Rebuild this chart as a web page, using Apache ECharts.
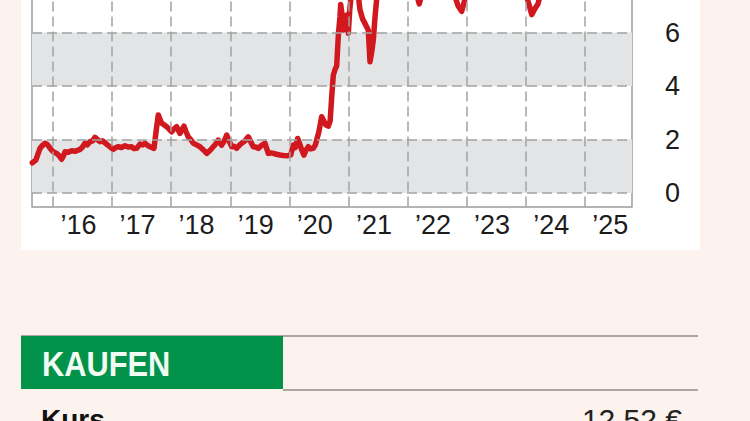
<!DOCTYPE html>
<html>
<head>
<meta charset="utf-8">
<script src="https://cdn.jsdelivr.net/npm/echarts@6/dist/echarts.min.js"></script>
<style>
  html, body { margin: 0; padding: 0; background: #fcf3ee; }
  #chart { width: 750px; height: 421px; }
</style>
</head>
<body>
<div id="chart"></div>
<script>
// ---- data (decimal years, price) ----
const dates = [
  2015.65, 2015.71, 2015.78, 2015.83, 2015.865, 2015.90, 2015.937, 2015.97, 2016.005, 2016.063,
  2016.11, 2016.147, 2016.18, 2016.203, 2016.25, 2016.316, 2016.38, 2016.457, 2016.50, 2016.541,
  2016.58, 2016.626, 2016.67, 2016.711, 2016.75, 2016.795, 2016.84, 2016.880, 2016.92, 2016.964,
  2017.020, 2017.06, 2017.105, 2017.16, 2017.218, 2017.27, 2017.332, 2017.37, 2017.416, 2017.472,
  2017.52, 2017.557, 2017.60, 2017.641, 2017.709, 2017.755, 2017.782, 2017.81, 2017.839, 2017.88,
  2017.924, 2017.96, 2018.008, 2018.05, 2018.093, 2018.12, 2018.149, 2018.19, 2018.217, 2018.25,
  2018.289, 2018.33, 2018.374, 2018.43, 2018.487, 2018.55, 2018.601, 2018.66, 2018.712, 2018.76,
  2018.797, 2018.854, 2018.90, 2018.939, 2018.98, 2019.024, 2019.06, 2019.108, 2019.15, 2019.193,
  2019.25, 2019.305, 2019.35, 2019.389, 2019.43, 2019.474, 2019.53, 2019.587, 2019.643, 2019.69,
  2019.728, 2019.78, 2019.841, 2019.90, 2019.954, 2020.022, 2020.066, 2020.10, 2020.140, 2020.18,
  2020.208, 2020.247, 2020.28, 2020.320, 2020.36, 2020.404, 2020.44, 2020.462, 2020.50, 2020.546,
  2020.58, 2020.615, 2020.658, 2020.69, 2020.716, 2020.743, 2020.77, 2020.800, 2020.83, 2020.856,
  2020.868, 2020.89, 2020.912, 2020.94, 2020.970, 2020.997, 2021.02, 2021.054, 2021.093, 2021.144,
  2021.195, 2021.24, 2021.279, 2021.335, 2021.364, 2021.395, 2021.420, 2021.45, 2021.487, 2021.55,
  2021.70, 2021.85, 2022.00, 2022.10, 2022.142, 2022.198, 2022.261, 2022.35, 2022.50, 2022.65,
  2022.75, 2022.802, 2022.853, 2022.915, 2022.954, 2023.005, 2023.15, 2023.35, 2023.55, 2023.75,
  2023.95, 2024.020, 2024.06, 2024.100, 2024.156, 2024.206, 2024.257, 2024.40, 2024.60, 2024.80,
  2025.00, 2025.20, 2025.40, 2025.60, 2025.75
];
const prices = [
  1.13, 1.23, 1.67, 1.80, 1.86, 1.82, 1.72, 1.62, 1.54, 1.48,
  1.38, 1.26, 1.40, 1.54, 1.52, 1.58, 1.56, 1.63, 1.72, 1.86,
  1.80, 1.92, 1.95, 2.08, 2.00, 1.92, 1.95, 1.88, 1.80, 1.73,
  1.63, 1.70, 1.73, 1.70, 1.77, 1.72, 1.73, 1.66, 1.67, 1.83,
  1.80, 1.86, 1.78, 1.73, 1.67, 2.48, 2.92, 2.75, 2.61, 2.55,
  2.48, 2.40, 2.29, 2.40, 2.48, 2.35, 2.23, 2.40, 2.50, 2.30,
  2.10, 2.00, 1.86, 1.80, 1.73, 1.60, 1.48, 1.60, 1.73, 1.85,
  1.98, 1.79, 1.95, 2.17, 1.95, 1.73, 1.75, 1.67, 1.78, 1.86,
  1.95, 2.10, 1.90, 1.73, 1.72, 1.67, 1.78, 1.86, 1.48, 1.50,
  1.48, 1.45, 1.42, 1.40, 1.39, 1.42, 1.79, 1.70, 2.04, 1.80,
  1.61, 1.42, 1.60, 1.73, 1.65, 1.67, 1.80, 1.98, 2.30, 2.85,
  2.70, 2.55, 2.50, 2.70, 3.60, 4.40, 4.60, 4.75, 5.95, 6.60,
  7.05, 6.70, 6.09, 6.50, 6.65, 5.97, 6.80, 7.60, 8.20, 7.80,
  6.84, 6.50, 6.34, 6.09, 4.91, 5.30, 5.72, 6.60, 7.50, 8.40,
  8.90, 9.30, 8.70, 8.00, 7.50, 7.07, 7.60, 8.30, 8.60, 8.00,
  7.70, 7.35, 7.00, 6.79, 7.10, 7.60, 8.30, 8.90, 8.30, 8.00,
  7.70, 7.30, 7.00, 6.67, 6.90, 7.07, 7.50, 8.40, 9.30, 10.10,
  10.90, 11.60, 12.00, 12.30, 12.52
];
const yTicks = [0, 2, 4, 6];
const yBands = [[0, 2], [4, 6]];
const yearStarts = [2016, 2017, 2018, 2019, 2020, 2021, 2022, 2023, 2024, 2025];
const yearLabels = ["’16", "’17", "’18", "’19", "’20", "’21", "’22", "’23", "’24", "’25"];
const ratingText = "KAUFEN";
const priceLabel = "Kurs";
const priceValue = "12,52 €";

// ---- chart ----
const chart = echarts.init(document.getElementById('chart'), null, { renderer: 'svg' });
const labelPos = yearStarts.map(y => y + 0.43);
const FONT = "'Liberation Sans', Arial, sans-serif";
const gridColor = '#a3a3a3';
const borderStyle = { color: '#9c9c9c', width: 1.5 };
const Y_MIN = -0.5, Y_MAX = 7.215;

chart.setOption({
  animation: false,
  backgroundColor: '#fcf3ee',
  grid: {
    left: 32, width: 600, top: 0, height: 206.4,
    show: true, backgroundColor: '#ffffff', borderWidth: 0
  },
  xAxis: {
    type: 'value', min: 2015.645, max: 2025.797,
    axisLine: { show: true, onZero: false, lineStyle: borderStyle }, axisTick: { show: false }, splitLine: { show: false },
    axisLabel: {
      customValues: labelPos,
      formatter: v => yearLabels[yearStarts.indexOf(Math.floor(v))] || '',
      margin: 5, fontSize: 27, color: '#1c1c1c', fontFamily: FONT
    }
  },
  yAxis: [
    {
      type: 'value', position: 'right', min: Y_MIN, max: Y_MAX,
      axisLine: { show: true, onZero: false, lineStyle: borderStyle }, axisTick: { show: false }, splitLine: { show: false },
      axisLabel: {
        customValues: yTicks, align: 'left', margin: 33,
        fontSize: 27, color: '#1c1c1c', fontFamily: FONT
      }
    },
    {
      type: 'value', position: 'left', min: Y_MIN, max: Y_MAX,
      axisLine: { show: true, onZero: false, lineStyle: borderStyle }, axisTick: { show: false },
      splitLine: { show: false }, axisLabel: { show: false }
    }
  ],
  series: [
    {
      type: 'line', data: [], z: 1, silent: true,
      markArea: {
        silent: true,
        itemStyle: { color: '#e2e4e6' },
        data: yBands.map(b => [{ yAxis: b[0] }, { yAxis: b[1] }])
      },
      markLine: {
        silent: true, symbol: 'none', label: { show: false },
        lineStyle: { color: gridColor, type: [10, 5], width: 1.5 },
        data: yTicks.map(v => ({ yAxis: v })).concat(yearStarts.map(v => ({ xAxis: v })))
      }
    },
    {
      type: 'line', z: 3, showSymbol: false, clip: true,
      lineStyle: { color: '#d0181e', width: 5.5, join: 'round', cap: 'round' },
      data: dates.map((d, i) => [d, prices[i]])
    }
  ],
  graphic: [
    { type: 'rect', z: -10, shape: { x: 21, y: 0, width: 679, height: 250 }, style: { fill: '#ffffff' } },
    { type: 'rect', shape: { x: 21, y: 335, width: 677, height: 2 }, style: { fill: '#aaa6a2' } },
    { type: 'rect', shape: { x: 21, y: 336, width: 262, height: 53 }, style: { fill: '#03924a' } },
    { type: 'rect', shape: { x: 283, y: 389, width: 415, height: 2 }, style: { fill: '#aaa6a2' } },
    { type: 'text', x: 42, y: 364, scaleX: 0.88,
      style: { text: ratingText, fill: '#f0fbf3', font: "bold 35px " + FONT, verticalAlign: 'middle' } },
    { type: 'text', x: 41, y: 419,
      style: { text: priceLabel, fill: '#111111', font: "bold 28px " + FONT, verticalAlign: 'middle' } },
    { type: 'text', x: 682, y: 419,
      style: { text: priceValue, fill: '#222222', font: "30px " + FONT, align: 'right', verticalAlign: 'middle' } }
  ]
});
</script>
</body>
</html>
